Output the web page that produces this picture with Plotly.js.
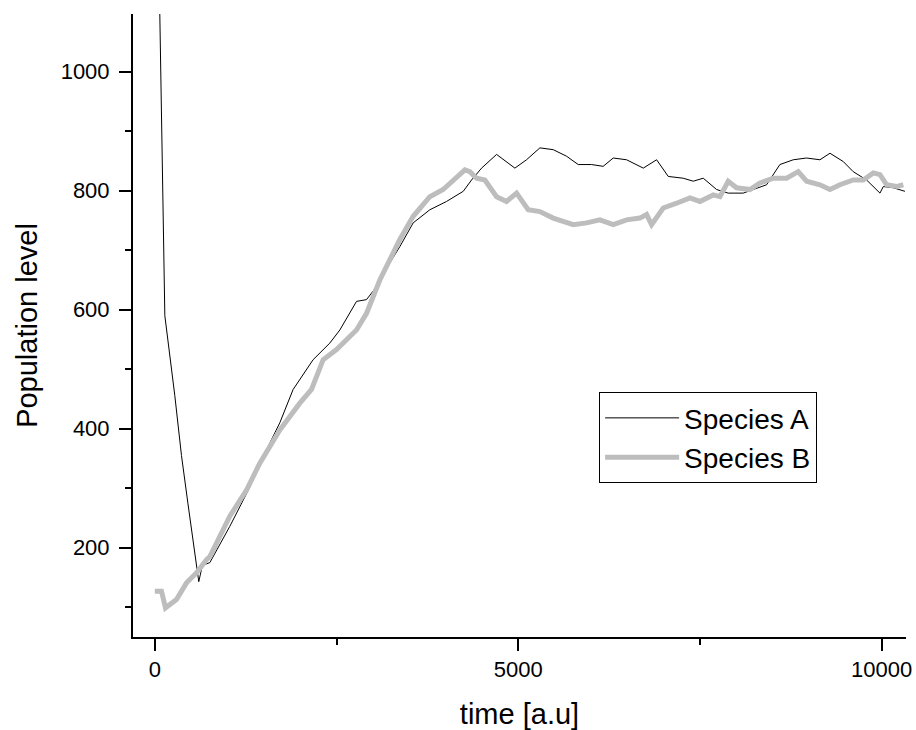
<!DOCTYPE html>
<html>
<head>
<meta charset="utf-8">
<script src="https://cdn.plot.ly/plotly-3.0.1.min.js"></script>
<style>
  html, body { margin: 0; padding: 0; background: #fff; }
  #chart { width: 916px; height: 730px; }
</style>
</head>
<body>
<div id="chart"></div>
<script>
// Species A (thin black line)
const timeA = [0, 138, 275, 367, 455, 574, 605, 650, 690, 757, 1032, 1300, 1582, 1720, 1903, 2178, 2408, 2546, 2775, 2913, 3051, 3200, 3371, 3555, 3784, 4014, 4243, 4358, 4496, 4702, 4840, 4954, 5114, 5298, 5481, 5665, 5825, 6009, 6169, 6307, 6491, 6720, 6904, 7064, 7270, 7408, 7546, 7729, 7889, 8095, 8417, 8600, 8784, 8967, 9151, 9289, 9472, 9609, 9793, 9977, 10023, 10160, 10321];
const popA  = [1600, 590, 456, 355, 275, 163, 143, 168, 172, 175, 236, 300, 376, 410, 466, 516, 544, 566, 614, 617, 639, 672, 706, 746, 768, 782, 799, 818, 838, 861, 849, 838, 852, 872, 869, 858, 844, 844, 841, 855, 852, 838, 852, 824, 821, 816, 821, 802, 796, 796, 810, 844, 852, 855, 852, 863, 849, 832, 818, 796, 807, 805, 799];

// Species B (thick grey line)
const timeB = [0, 92, 147, 298, 436, 574, 711, 757, 1032, 1262, 1445, 1720, 1995, 2156, 2316, 2500, 2775, 2913, 3096, 3371, 3555, 3784, 3967, 4105, 4266, 4335, 4427, 4541, 4702, 4840, 4977, 5137, 5298, 5481, 5757, 5940, 6124, 6307, 6491, 6674, 6766, 6835, 6995, 7179, 7362, 7500, 7683, 7775, 7889, 8004, 8188, 8325, 8509, 8692, 8852, 8967, 9151, 9289, 9426, 9609, 9747, 9885, 9977, 10069, 10206, 10298];
const popB  = [127, 127, 99, 113, 141, 158, 180, 185, 253, 297, 342, 398, 443, 466, 516, 533, 566, 594, 650, 718, 757, 790, 802, 818, 835, 832, 821, 818, 790, 782, 796, 768, 765, 754, 743, 746, 751, 743, 751, 754, 760, 743, 771, 779, 788, 782, 793, 790, 816, 805, 802, 813, 821, 821, 832, 816, 810, 802, 810, 818, 818, 830, 827, 810, 807, 810];

const seriesNames = ["Species A", "Species B"];
const xTitle = "time [a.u]";
const yTitle = "Population level";

const FONT = '"Liberation Sans", Arial, sans-serif';

const traces = [
  { x: timeA, y: popA, name: seriesNames[0], type: "scatter", mode: "lines",
    line: { color: "#000000", width: 1 }, legendgroup: "a" },
  { x: timeB, y: popB, name: seriesNames[1], type: "scatter", mode: "lines",
    line: { color: "#bdbdbd", width: 5 }, legendgroup: "b" }
];

const axisCommon = {
  showline: true, linecolor: "#000", linewidth: 2, mirror: false,
  ticks: "outside", ticklen: 12, tickwidth: 2, tickcolor: "#000",
  showgrid: false, zeroline: false, tickformat: "d",
  tickfont: { family: FONT, size: 22, color: "#000" }
};

const layout = {
  width: 916, height: 730,
  margin: { l: 133, r: 10, t: 14, b: 93 },
  paper_bgcolor: "#fff", plot_bgcolor: "#fff",
  font: { family: FONT, color: "#000" },
  showlegend: true,
  legend: {
    x: 0.603, y: 0.393, xanchor: "left", yanchor: "top",
    bordercolor: "#000", borderwidth: 1, bgcolor: "#fff",
    font: { family: FONT, size: 28, color: "#000" },
    traceorder: "grouped", tracegroupgap: 0, itemwidth: 74
  },
  xaxis: Object.assign({}, axisCommon, {
    range: [-300, 10335], tick0: 0, dtick: 5000,
    minor: { dtick: 2500, tick0: 0, ticks: "outside", ticklen: 6, tickwidth: 2, tickcolor: "#000" },
    ticklabelstandoff: 0,
    title: { text: xTitle, font: { family: FONT, size: 29, color: "#000" }, standoff: 22 }
  }),
  yaxis: Object.assign({}, axisCommon, {
    range: [50, 1097], tick0: 0, dtick: 200,
    minor: { dtick: 100, tick0: 0, ticks: "outside", ticklen: 6, tickwidth: 2, tickcolor: "#000" },
    ticklabelstandoff: 5,
    title: { text: yTitle, font: { family: FONT, size: 29, color: "#000" }, standoff: 14 }
  })
};

Plotly.newPlot("chart", traces, layout, { displayModeBar: false, staticPlot: true });
</script>
</body>
</html>
